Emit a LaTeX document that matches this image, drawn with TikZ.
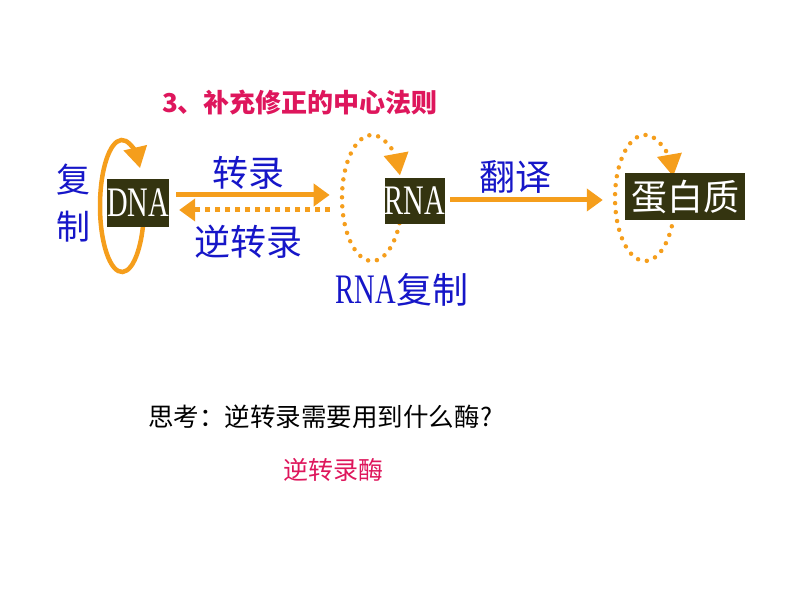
\documentclass[tikz,border=0pt]{standalone}
\usepackage{fontspec}
\usepackage{graphicx}
\newfontfamily\cjk{Noto Sans CJK SC}
\newfontfamily\lserif{Liberation Serif}
\usetikzlibrary{arrows.meta}
\definecolor{orangeC}{RGB}{245,158,28}
\definecolor{blueC}{RGB}{22,22,200}
\definecolor{crimsonC}{RGB}{222,22,92}
\definecolor{boxC}{RGB}{52,52,16}
\tikzset{
  solidarr/.style={draw=orangeC, line width=5pt, -{Triangle[length=16pt,width=22pt]}},
  sqdots/.style={draw=orangeC, line width=5pt, dash pattern=on 5pt off 5pt, -{Triangle[length=16pt,width=22pt]}},
  rdots/.style={draw=orangeC, line width=4.5pt, line cap=round, dash pattern=on 0pt off 9pt, -{Triangle[length=22pt,width=24pt,line cap=butt]}},
  loopsolid/.style={draw=orangeC, line width=4.5pt, -{Triangle[length=21pt,width=23pt]}},
  darkbox/.style={fill=boxC, text=white, inner sep=0pt},
  bluelab/.style={text=blueC, inner sep=0pt, font=\cjk\fontsize{36}{40}\selectfont},
}
\begin{document}
\begin{tikzpicture}[x=1pt,y=1pt]
\useasboundingbox (0,0) rectangle (794,596);
% title
\node[text=crimsonC, inner sep=0pt, font=\cjk\bfseries\fontsize{26}{30}\selectfont] (title) at (300,493) {3、补充修正的中心法则};
% loops (drawn before boxes)
\draw[loopsolid] (122,390) ++(-10:22 and 66) arc[start angle=-10, end angle=-325, x radius=22, y radius=66];
\draw[rdots] (372,398) ++(-15:30 and 63) arc[start angle=-15, end angle=-339, x radius=30, y radius=63];
\draw[rdots] (645,398) ++(-18:30 and 63) arc[start angle=-18, end angle=-340, x radius=30, y radius=63];
% boxes
\node[darkbox, minimum width=60pt, minimum height=48pt] (dna) at (138,393) {\lserif\fontsize{42}{44}\selectfont\scalebox{0.68}[1]{DNA}};
\node[darkbox, minimum width=60pt, minimum height=46pt] (rna) at (415,395) {\lserif\fontsize{42}{44}\selectfont\scalebox{0.68}[1]{RNA}};
\node[darkbox, minimum width=120pt, minimum height=47pt] (prot) at (685,399) {\cjk\fontsize{36}{40}\selectfont 蛋白质};
% labels
\node[bluelab, font=\cjk\fontsize{34}{38}\selectfont] (fu) at (73,416) {复};
\node[bluelab, font=\cjk\fontsize{34}{38}\selectfont] (zhi) at (73,369) {制};
\node[bluelab] (zl) at (248,423) {转录};
\node[bluelab] (nzl) at (248,354) {逆转录};
\node[bluelab] (rnafz) at (402,306) {\lserif\fontsize{42}{44}\selectfont\scalebox{0.68}[1]{RNA}\cjk\fontsize{36}{40}\selectfont 复制};
\node[bluelab] (fy) at (515,419) {翻译};
% arrows
\draw[solidarr] ([xshift=7pt,yshift=8pt]dna.east) -- ([xshift=-55pt,yshift=6pt]rna.west);
\draw[sqdots] ([xshift=-55pt,yshift=-9pt]rna.west) -- ([xshift=10pt,yshift=-7pt]dna.east);
\draw[solidarr] ([xshift=5pt,yshift=1pt]rna.east) -- ([xshift=-22pt,yshift=-3pt]prot.west);
% question
\node[anchor=west, inner sep=0pt, font=\cjk\fontsize{25.5}{29}\selectfont] (q) at (148,179) {思考：逆转录需要用到什么酶\kern1pt?};
\node[text=crimsonC, inner sep=0pt, font=\cjk\fontsize{25}{29}\selectfont] (ans) at (333,126) {逆转录酶};
\end{tikzpicture}
\end{document}
